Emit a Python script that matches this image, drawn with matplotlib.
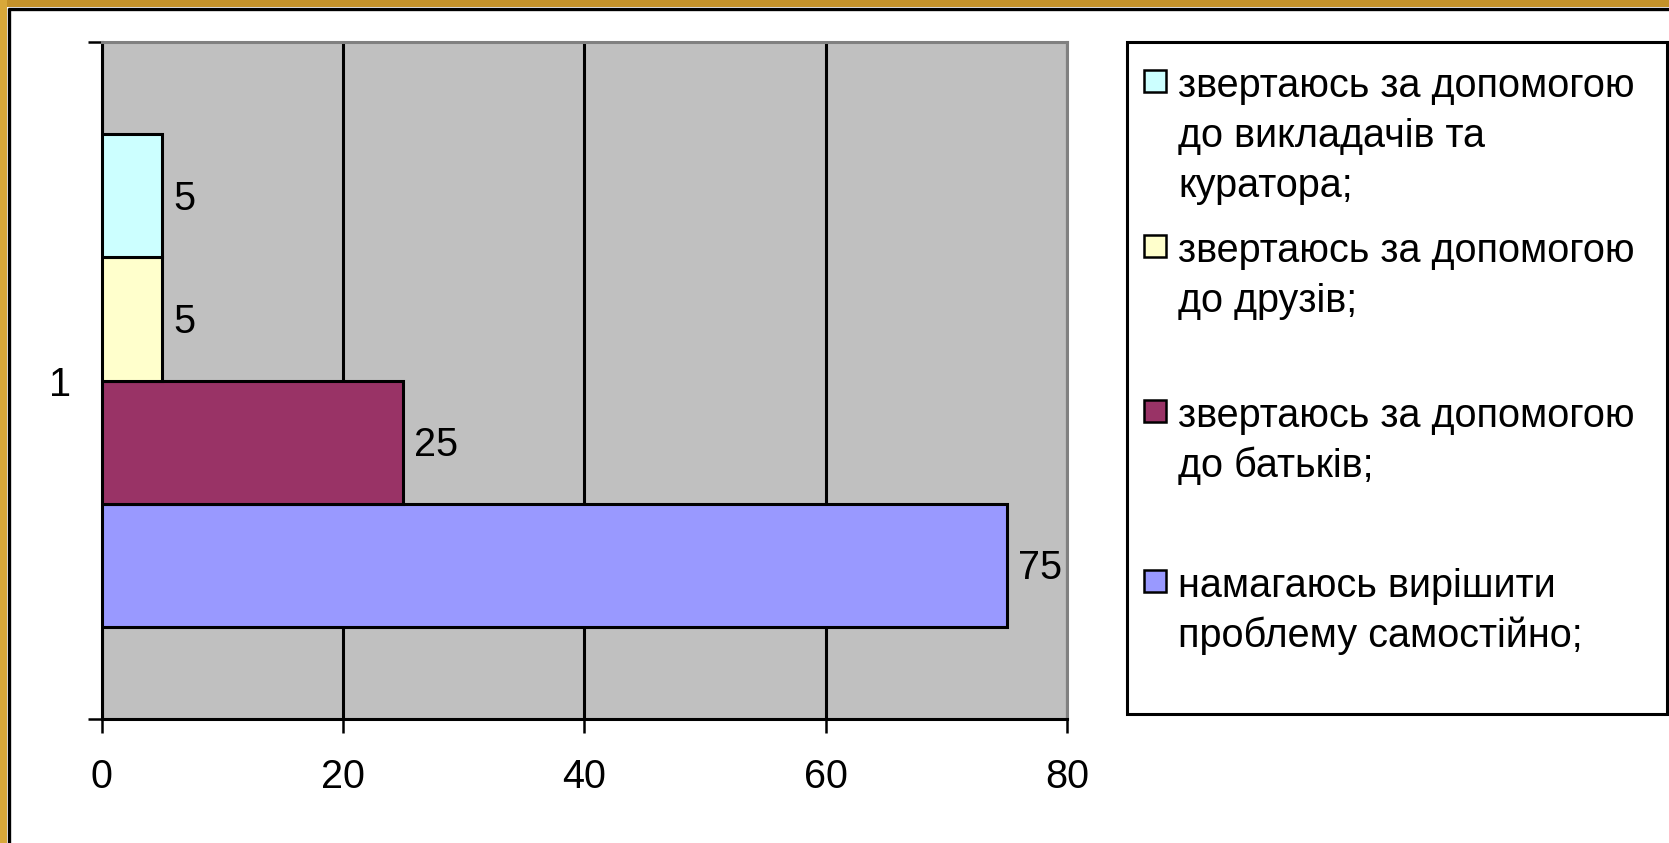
import matplotlib
matplotlib.use("Agg")
import matplotlib.pyplot as plt
from matplotlib.patches import Rectangle

plt.rcParams["font.family"] = ["Liberation Sans", "DejaVu Sans"]

# data (bottom series first, as Excel draws them)
labels = [
    "намагаюсь вирішити\nпроблему самостійно;",
    "звертаюсь за допомогою\nдо батьків;",
    "звертаюсь за допомогою\nдо друзів;",
    "звертаюсь за допомогою\nдо викладачів та\nкуратора;",
]
values = [75, 25, 5, 5]
colors = ["#9999FF", "#993366", "#FFFFCC", "#CCFFFF"]
category = "1"
xticks = [0, 20, 40, 60, 80]

W, H = 1669, 843
FS = 28.5

fig = plt.figure(figsize=(W / 100, H / 100), dpi=100)
fig.patch.set_facecolor("white")

# background layer in pixel coords: frame + legend
bg = fig.add_axes([0, 0, 1, 1], zorder=0)
bg.set_xlim(0, W)
bg.set_ylim(H, 0)
bg.axis("off")
bg.add_patch(Rectangle((0, 0), W, 7, color="#C4922A", lw=0))
bg.add_patch(Rectangle((0, 0), 7, H, color="#D8A83A", lw=0))
bg.plot([8, W], [8.5, 8.5], color="black", lw=2.4, solid_capstyle="butt")
bg.plot([8.5, 8.5], [8, H], color="black", lw=2.4, solid_capstyle="butt")

# plot area
left, right, top, bottom = 101.5, 1067, 42, 719
ax = fig.add_axes([left / W, 1 - bottom / H, (right - left) / W, (bottom - top) / H], zorder=1)
ax.set_facecolor("#C0C0C0")

n = len(values)
slot = n + 1.5  # gap width 150%
h = 1 / slot
for i, (v, c) in enumerate(zip(values, colors)):
    y = -0.5 + (0.75 + i + 0.5) / slot
    ax.barh(y, v, height=h, color=c, edgecolor="black", linewidth=2.2, zorder=3)
    ax.annotate(str(v), (v, y), xytext=(8, -2), textcoords="offset points",
                va="center", ha="left", fontsize=FS, zorder=4)

ax.set_xlim(0, 80)
ax.set_ylim(-0.5, 0.5)
ax.set_xticks(xticks)
ax.set_xticklabels([str(t) for t in xticks], fontsize=FS)
ax.set_yticks([-0.5, 0.5])
ax.set_yticklabels(["", ""])
ax.set_yticks([0], minor=True)
ax.set_yticklabels([category], minor=True, fontsize=FS)
ax.tick_params(axis="y", which="minor", length=0, pad=22)
ax.tick_params(axis="y", which="major", length=10, width=1.8, direction="out")
ax.tick_params(axis="x", length=10, width=1.8, direction="out", pad=18)
ax.xaxis.grid(True, color="black", lw=2.2, zorder=1)
ax.set_axisbelow(True)
for s in ["left", "bottom"]:
    ax.spines[s].set_color("black")
    ax.spines[s].set_linewidth(2.2)
for s in ["top", "right"]:
    ax.spines[s].set_color("#808080")
    ax.spines[s].set_linewidth(2.2)

# legend (top entry = last series)
bg.add_patch(Rectangle((1127, 42), 1667 - 1127, 714 - 42, fill=False, ec="black", lw=2.2))
baselines = [97, 262, 427, 597]
for base, lab, c in zip(baselines, labels[::-1], colors[::-1]):
    bg.add_patch(Rectangle((1144, base - 27), 22, 22, fc=c, ec="black", lw=1.8))
    for k, line in enumerate(lab.split("\n")):
        bg.text(1178, base + 50 * k, line, fontsize=FS, va="baseline", ha="left")

fig.savefig("out.png", dpi=100, facecolor="white")
